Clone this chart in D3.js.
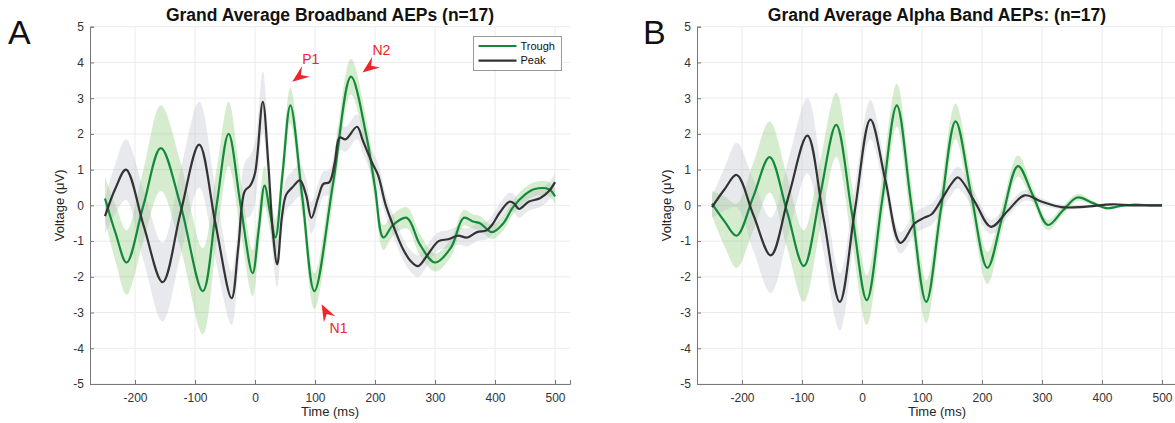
<!DOCTYPE html>
<html>
<head>
<meta charset="utf-8">
<script src="https://cdn.jsdelivr.net/npm/d3@7"></script>
<style>
  body { margin: 0; background: #fff; }
  svg { font-family: "Liberation Sans", Arial, Helvetica, sans-serif; }
</style>
</head>
<body>
<div id="chart"></div>
<script>
const xTicks = [-200, -100, 0, 100, 200, 300, 400, 500];
const yTicks = [-5, -4, -3, -2, -1, 0, 1, 2, 3, 4, 5];
const seriesNames = ['Trough', 'Peak'];

// Panel A: broadband, trough (green)
const bbTroughT   = [-250, -232, -214, -186, -157, -124, -87, -64, -44, -24, -4, 6, 16, 25, 34, 46, 59, 79, 99, 130, 160, 185, 200, 214, 230, 253, 275, 300, 326, 348, 363, 375, 395, 414, 430, 450, 465, 490, 500];
const bbTroughV   = [0.19, -0.8, -1.6, 0.0, 1.6, 0.0, -2.4, 0.0, 2.0, 0.0, -1.9, -0.7, 0.55, -0.2, -0.9, 0.9, 2.8, 0.2, -2.4, 0.6, 3.6, 2.0, 0.5, -0.9, -0.55, -0.35, -1.1, -1.6, -1.2, -0.35, -0.45, -0.5, -0.75, -0.5, -0.05, 0.3, 0.45, 0.45, 0.25];
const bbTroughSem = [0.6, 0.8, 0.9, 1.0, 1.2, 1.2, 1.2, 1.0, 0.9, 0.75, 0.65, 0.6, 0.55, 0.5, 0.5, 0.5, 0.5, 0.5, 0.5, 0.5, 0.5, 0.45, 0.4, 0.35, 0.3, 0.3, 0.3, 0.25, 0.25, 0.22, 0.2, 0.2, 0.2, 0.2, 0.2, 0.2, 0.2, 0.2, 0.2];

// Panel A: broadband, peak (dark grey)
const bbPeakT   = [-250, -232, -215, -185, -154, -124, -93, -66, -39, -28, -17, -8, 0, 13, 22, 30, 37, 45, 52, 62, 75, 85, 94, 105, 114, 124, 133, 141, 151, 170, 180, 195, 205, 218, 230, 246, 259, 272, 287, 306, 322, 338, 354, 370, 386, 395, 408, 424, 432, 440, 456, 475, 490, 500];
const bbPeakV   = [-0.3, 0.5, 1.0, -0.6, -2.15, -0.2, 1.7, -0.5, -2.6, -1.2, 0.4, 0.55, 0.9, 2.9, 1.2, -0.8, -1.65, -0.3, 0.3, 0.5, 0.7, 0.3, -0.35, 0.2, 0.6, 0.65, 1.2, 1.9, 1.85, 2.2, 1.8, 1.2, 0.85, 0.0, -0.55, -1.2, -1.55, -1.7, -1.4, -1.0, -0.95, -0.85, -0.9, -0.75, -0.7, -0.55, -0.2, 0.1, 0.05, -0.1, 0.1, 0.2, 0.4, 0.65];
const bbPeakSem = [0.5, 0.7, 0.85, 1.0, 1.1, 1.2, 1.2, 1.0, 0.75, 0.7, 0.8, 0.85, 0.85, 0.85, 0.75, 0.65, 0.65, 0.5, 0.45, 0.45, 0.45, 0.45, 0.45, 0.4, 0.35, 0.35, 0.35, 0.35, 0.35, 0.35, 0.35, 0.35, 0.35, 0.3, 0.3, 0.3, 0.3, 0.3, 0.3, 0.25, 0.25, 0.25, 0.25, 0.25, 0.25, 0.25, 0.25, 0.25, 0.25, 0.25, 0.25, 0.25, 0.25, 0.25];

// Panel B: alpha band, trough (green)
const abTroughT   = [-250, -229, -209, -181, -154, -125, -97, -70, -43, -17, 8, 33, 58, 82, 107, 131, 156, 182, 209, 234, 260, 285, 310, 334, 359, 384, 408, 430, 455, 480, 500];
const abTroughV   = [0.05, -0.45, -0.85, 0.25, 1.35, -0.17, -1.7, 0.27, 2.25, -0.2, -2.65, 0.07, 2.8, 0.05, -2.7, -0.17, 2.35, 0.3, -1.75, -0.32, 1.1, 0.27, -0.55, -0.16, 0.22, 0.07, -0.08, -0.02, 0.02, 0.0, 0.0];
const abTroughSem = [0.35, 0.7, 0.9, 0.95, 1.0, 1.0, 1.0, 0.95, 0.9, 0.8, 0.7, 0.65, 0.6, 0.6, 0.6, 0.55, 0.5, 0.47, 0.45, 0.35, 0.3, 0.2, 0.15, 0.12, 0.1, 0.06, 0.04, 0.02, 0.01, 0.0, 0.0];

// Panel B: alpha band, peak (dark grey)
const abPeakT   = [-250, -229, -209, -181, -152, -122, -91, -64, -37, -12, 14, 39, 64, 88, 103, 116, 134, 149, 160, 188, 215, 243, 271, 300, 332, 370, 417, 450, 500];
const abPeakV   = [-0.05, 0.45, 0.85, -0.27, -1.4, 0.28, 1.95, -0.37, -2.7, -0.15, 2.4, 0.7, -1.05, -0.5, -0.35, -0.25, 0.2, 0.6, 0.78, 0.1, -0.6, -0.15, 0.28, 0.1, -0.05, -0.04, 0.03, 0.0, 0.0];
const abPeakSem = [0.3, 0.6, 0.9, 1.0, 1.05, 1.05, 1.05, 0.95, 0.8, 0.65, 0.55, 0.4, 0.3, 0.3, 0.3, 0.3, 0.3, 0.3, 0.3, 0.25, 0.2, 0.17, 0.15, 0.1, 0.07, 0.05, 0.03, 0.01, 0.0];

// Red component markers on panel A
const markerLabels = ['P1', 'N2', 'N1'];
const markerTimes  = [62, 179, 111];
const markerVolts  = [3.46, 3.72, -2.77];

const W = 1175, H = 423;
const svg = d3.select('#chart').append('svg').attr('width', W).attr('height', H);

const lineColors = { Trough: '#138a3b', Peak: '#333333' };
const bandColors = { Trough: 'rgb(120,192,92)', Peak: 'rgb(178,183,194)' };

function zip(t, v, s) {
    return t.map((d, i) => ({ t: d, v: v[i], s: s[i] }));
}

function drawPanel(cfg) {
    const x = d3.scaleLinear().domain([-275, 525]).range(cfg.xRange);
    const y = d3.scaleLinear().domain([-5, 5]).range([384, 26.7]);
    const g = svg.append('g');

    // grid
    g.append('g').selectAll('line').data(xTicks).join('line')
        .attr('x1', d => x(d)).attr('x2', d => x(d))
        .attr('y1', y(-5)).attr('y2', y(5))
        .attr('stroke', '#ebebeb').attr('stroke-width', 1);
    g.append('g').selectAll('line').data(yTicks).join('line')
        .attr('x1', x(-275)).attr('x2', x(525))
        .attr('y1', d => y(d)).attr('y2', d => y(d))
        .attr('stroke', '#ebebeb').attr('stroke-width', 1);

    const curve = d3.curveCatmullRom.alpha(0.5);
    const area = d3.area().curve(curve)
        .x(d => x(d.t)).y0(d => y(d.v - d.s)).y1(d => y(d.v + d.s));
    const line = d3.line().curve(curve).x(d => x(d.t)).y(d => y(d.v));

    cfg.series.forEach(s => {
        g.append('path').datum(s.data)
            .attr('d', area)
            .attr('fill', bandColors[s.name]).attr('fill-opacity', 0.3);
    });
    cfg.series.forEach(s => {
        g.append('path').datum(s.data)
            .attr('d', line)
            .attr('fill', 'none')
            .attr('stroke', lineColors[s.name])
            .attr('stroke-width', 2.2)
            .attr('stroke-linejoin', 'round');
    });

    // axes
    const fmt = d => String(d);
    const xAxis = g.append('g')
        .attr('transform', `translate(0,${y(-5)})`)
        .call(d3.axisBottom(x).tickValues(xTicks).tickFormat(fmt).tickSize(-4).tickPadding(9));
    const yAxis = g.append('g')
        .attr('transform', `translate(${x(-275)},0)`)
        .call(d3.axisLeft(y).tickValues(yTicks).tickFormat(fmt).tickSize(-4).tickPadding(6));
    [xAxis, yAxis].forEach(a => {
        a.select('.domain').attr('stroke', '#777').attr('stroke-width', 1);
        a.selectAll('.tick line').attr('stroke', '#777');
        a.selectAll('.tick text').attr('fill', '#333').style('font-size', '12px');
        a.attr('font-family', null);
    });

    // axis labels
    const cx = (cfg.xRange[0] + cfg.xRange[1]) / 2;
    g.append('text')
        .attr('x', (x(-275) + x(525)) / 2).attr('y', 416)
        .attr('text-anchor', 'middle').attr('fill', '#262626')
        .style('font-size', '13px').text('Time (ms)');
    g.append('text')
        .attr('transform', `translate(${x(-275) - 26},${y(0)}) rotate(-90)`)
        .attr('text-anchor', 'middle').attr('fill', '#262626')
        .style('font-size', '13px').text('Voltage (μV)');

    // title and panel letter
    g.append('text')
        .attr('x', cx).attr('y', 21)
        .attr('text-anchor', 'middle').attr('fill', '#111')
        .style('font-size', '17.5px').style('font-weight', 'bold')
        .text(cfg.title);
    g.append('text')
        .attr('x', cfg.letterX).attr('y', 44)
        .attr('fill', '#111').style('font-size', '34px')
        .text(cfg.letter);

    return { x, y, g };
}

const panelA = drawPanel({
    xRange: [90, 570], title: 'Grand Average Broadband AEPs (n=17)', letter: 'A', letterX: 8,
    series: [
        { name: 'Trough', data: zip(bbTroughT, bbTroughV, bbTroughSem) },
        { name: 'Peak', data: zip(bbPeakT, bbPeakV, bbPeakSem) }
    ]
});

drawPanel({
    xRange: [697, 1177], title: 'Grand Average Alpha Band AEPs: (n=17)', letter: 'B', letterX: 643,
    series: [
        { name: 'Trough', data: zip(abTroughT, abTroughV, abTroughSem) },
        { name: 'Peak', data: zip(abPeakT, abPeakV, abPeakSem) }
    ]
});

// legend (panel A)
const legend = svg.append('g').attr('transform', 'translate(473.5,36.5)');
legend.append('rect').attr('width', 88).attr('height', 34)
    .attr('fill', '#fff').attr('stroke', '#999').attr('stroke-width', 1);
seriesNames.forEach((n, i) => {
    const ly = 9.5 + i * 14.6;
    legend.append('line').attr('x1', 5).attr('x2', 43).attr('y1', ly).attr('y2', ly)
        .attr('stroke', lineColors[n]).attr('stroke-width', 2.2);
    legend.append('text').attr('x', 47).attr('y', ly).attr('dy', '0.35em')
        .attr('fill', '#111').style('font-size', '11px').text(n);
});

// red arrow markers
const dirs = { P1: [0.8, -0.6], N2: [0.8, -0.6], N1: [0.47, 0.88] };
const textOff = { P1: [10, -18], N2: [10, -17], N1: [8, 29] };
markerLabels.forEach((lab, i) => {
    const tx = panelA.x(markerTimes[i]), ty = panelA.y(markerVolts[i]);
    const [ux, uy] = dirs[lab];
    const px = -uy, py = ux;
    const L = 17, Wd = 6.5, notch = 11;
    const pts = [
        [tx, ty],
        [tx + ux * L + px * Wd, ty + uy * L + py * Wd],
        [tx + ux * notch, ty + uy * notch],
        [tx + ux * L - px * Wd, ty + uy * L - py * Wd]
    ];
    svg.append('path').attr('d', 'M' + pts.map(p => p.join(',')).join('L') + 'Z')
        .attr('fill', '#f0242a');
    svg.append('text')
        .attr('x', tx + textOff[lab][0]).attr('y', ty + textOff[lab][1])
        .attr('fill', '#f0242a').style('font-size', '14px').text(lab);
});
</script>
</body>
</html>
